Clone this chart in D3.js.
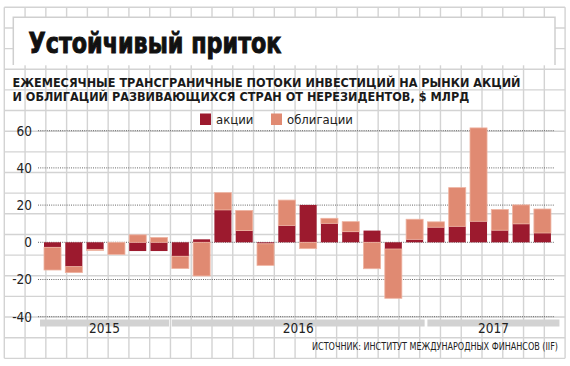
<!DOCTYPE html>
<html>
<head>
<meta charset="utf-8">
<script src="https://cdn.jsdelivr.net/npm/d3@7"></script>
<style>
  html, body { margin: 0; padding: 0; background: #fff; }
  svg { display: block; }
  text { font-family: 'Liberation Sans Narrow', 'DejaVu Sans Condensed', 'Roboto', sans-serif; }
</style>
</head>
<body>
<svg id="chart" width="570" height="366"></svg>
<script>
// ---- data ----
const months = ["2015-07","2015-08","2015-09","2015-10","2015-11","2015-12",
  "2016-01","2016-02","2016-03","2016-04","2016-05","2016-06",
  "2016-07","2016-08","2016-09","2016-10","2016-11","2016-12",
  "2017-01","2017-02","2017-03","2017-04","2017-05","2017-06"];
const stocks = [-2.7, -13.1, -3.8, 0, -4.7, -4.7, -7.5, 1.6, 17.4, 6.3, -0.8, 9.1,
  20.1, 10.2, 5.7, 6.3, -3.6, 1.6, 8.1, 8.6, 11.3, 6.5, 9.9, 5.0];
const bonds = [-12.2, -3.2, -0.6, -6.5, 4.0, 2.6, -6.6, -18.1, 9.3, 10.8, -11.6, 13.6,
  -3.4, 2.7, 5.4, -14.2, -26.5, 10.8, 2.9, 20.8, 50.2, 11.1, 10.2, 12.9];
const years = ["2015", "2016", "2017"];
const yTicks = [-40, -20, 0, 20, 40, 60];
const seriesNames = ["акции", "облигации"];
const titleText = "Устойчивый приток";
const subtitleLines = ["ЕЖЕМЕСЯЧНЫЕ ТРАНСГРАНИЧНЫЕ ПОТОКИ ИНВЕСТИЦИЙ НА РЫНКИ АКЦИЙ",
  "И ОБЛИГАЦИЙ РАЗВИВАЮЩИХСЯ СТРАН ОТ НЕРЕЗИДЕНТОВ, $ МЛРД"];
const sourceText = "ИСТОЧНИК: ИНСТИТУТ МЕЖДУНАРОДНЫХ ФИНАНСОВ (IIF)";

const colors = { stocks: "#9c1a2e", bonds: "#e08a72", bondsEdge: "#eeb3a1" };
const FONT = "'Liberation Sans Narrow', 'DejaVu Sans Condensed', 'Roboto', sans-serif";

const svg = d3.select("#chart").attr("font-family", FONT);

// ---- background grid ----
const gx0 = 4.3, gy0 = 7.3, gdx = 20.77, gdy = 20.65, ncols = 27, nrows = 17;
const gx1 = gx0 + gdx * ncols, gy1 = gy0 + gdy * nrows;
const grid = svg.append("g").attr("stroke", "#d3d3d3").attr("stroke-width", 1.4);
grid.selectAll("line.v").data(d3.range(ncols + 1)).join("line")
  .attr("x1", i => gx0 + i * gdx).attr("x2", i => gx0 + i * gdx)
  .attr("y1", gy0).attr("y2", gy1);
grid.selectAll("line.h").data(d3.range(nrows + 1)).join("line")
  .attr("y1", i => gy0 + i * gdy).attr("y2", i => gy0 + i * gdy)
  .attr("x1", gx0).attr("x2", gx1);

// ---- title box ----
svg.append("rect").attr("x", 13.3).attr("y", 17.3).attr("width", 541.7).attr("height", 48)
  .attr("fill", "#fff");
svg.append("path").attr("d", "M13.3,65 V17.3 H555 V65").attr("fill", "none")
  .attr("stroke", "#cfcfcf").attr("stroke-width", 1.5);
svg.append("text").attr("x", 28.5).attr("y", 53).text(titleText)
  .style("font-family", "'DejaVu Sans Condensed', 'Liberation Sans Narrow', sans-serif")
  .attr("font-weight", "bold").attr("font-size", 28).attr("fill", "#111")
  .attr("stroke", "#111").attr("stroke-width", 0.9)
  .attr("textLength", 253).attr("lengthAdjust", "spacingAndGlyphs");

// ---- subtitle ----
const sub = svg.append("g");
const s1 = sub.append("text").attr("x", 12.5).attr("y", 87).text(subtitleLines[0])
  .attr("font-size", 12).attr("font-weight", "bold").attr("fill", "#1a1a1a");
const s2 = sub.append("text").attr("x", 12.5).attr("y", 100.5).text(subtitleLines[1])
  .attr("font-size", 12).attr("font-weight", "bold").attr("fill", "#1a1a1a");
const L1 = s1.node().getComputedTextLength();
const L2 = s2.node().getComputedTextLength();
const f = 508 / L1;
s1.attr("textLength", 508).attr("lengthAdjust", "spacingAndGlyphs");
s2.attr("textLength", L2 * f).attr("lengthAdjust", "spacingAndGlyphs");

// ---- scales ----
const x = d3.scaleBand().domain(months).range([41.87, 553.07]).paddingInner(0.2).paddingOuter(0.1);
const y = d3.scaleLinear().domain([-40, 60]).range([316.7, 130.7]);

// ---- dotted gridlines and y labels ----
const yAxis = svg.append("g");
yAxis.selectAll("line").data(yTicks).join("line")
  .attr("x1", 38).attr("x2", 555)
  .attr("y1", d => y(d)).attr("y2", d => y(d))
  .attr("stroke", "#666").attr("stroke-width", 1).attr("stroke-dasharray", "1,1.2");
yAxis.selectAll("text").data(yTicks).join("text")
  .attr("x", 32).attr("y", d => y(d)).attr("dy", "0.36em")
  .attr("text-anchor", "end").attr("font-size", 13.5).attr("fill", "#222")
  .text(d => d);

// ---- bars ----
const table = months.map((m, i) => ({ month: m, stocks: stocks[i], bonds: bonds[i] }));
const stack = d3.stack().keys(["stocks", "bonds"]).offset(d3.stackOffsetDiverging);
const layers = stack(table);
const barG = svg.append("g");
layers.forEach(layer => {
  const key = layer.key;
  barG.append("g").selectAll("rect").data(layer).join("rect")
    .attr("x", d => x(d.data.month))
    .attr("width", x.bandwidth())
    .attr("y", d => y(Math.max(d[0], d[1])))
    .attr("height", d => Math.abs(y(d[0]) - y(d[1])))
    .attr("fill", colors[key])
    .attr("stroke", key === "bonds" ? colors.bondsEdge : "none")
    .attr("stroke-width", 0.8);
});

// ---- year bands ----
const yearInfo = years.map((yr, k) => {
  const ms = months.filter(m => m.startsWith(yr));
  const first = ms[0], last = ms[ms.length - 1];
  const x0 = x(first) - (k === 0 ? 4 : 0);
  const x1 = x(last) + x.bandwidth() + (k === years.length - 1 ? 8.5 : 1.5);
  return { yr, x0, x1 };
});
const yearG = svg.append("g");
yearG.selectAll("rect").data(yearInfo).join("rect")
  .attr("x", d => d.x0).attr("width", d => d.x1 - d.x0)
  .attr("y", 319.5).attr("height", 7).attr("fill", "#d2d2d2");
yearG.selectAll("text").data(yearInfo).join("text")
  .attr("x", d => (d.x0 + d.x1) / 2).attr("y", 333)
  .attr("text-anchor", "middle").attr("font-size", 13.5).attr("fill", "#222")
  .text(d => d.yr);

// ---- legend ----
const leg = svg.append("g");
leg.append("rect").attr("x", 200).attr("y", 113.5).attr("width", 11).attr("height", 11.5).attr("fill", colors.stocks);
leg.append("text").attr("x", 216).attr("y", 123.5).attr("font-size", 13).attr("fill", "#222").text(seriesNames[0]);
leg.append("rect").attr("x", 271).attr("y", 113.5).attr("width", 11).attr("height", 11.5).attr("fill", colors.bonds);
leg.append("text").attr("x", 287).attr("y", 123.5).attr("font-size", 13).attr("fill", "#222").text(seriesNames[1]);

// ---- source ----
svg.append("text").attr("x", 312).attr("y", 350).text(sourceText)
  .attr("font-size", 11).attr("fill", "#222")
  .attr("textLength", 246).attr("lengthAdjust", "spacingAndGlyphs");
</script>
</body>
</html>
